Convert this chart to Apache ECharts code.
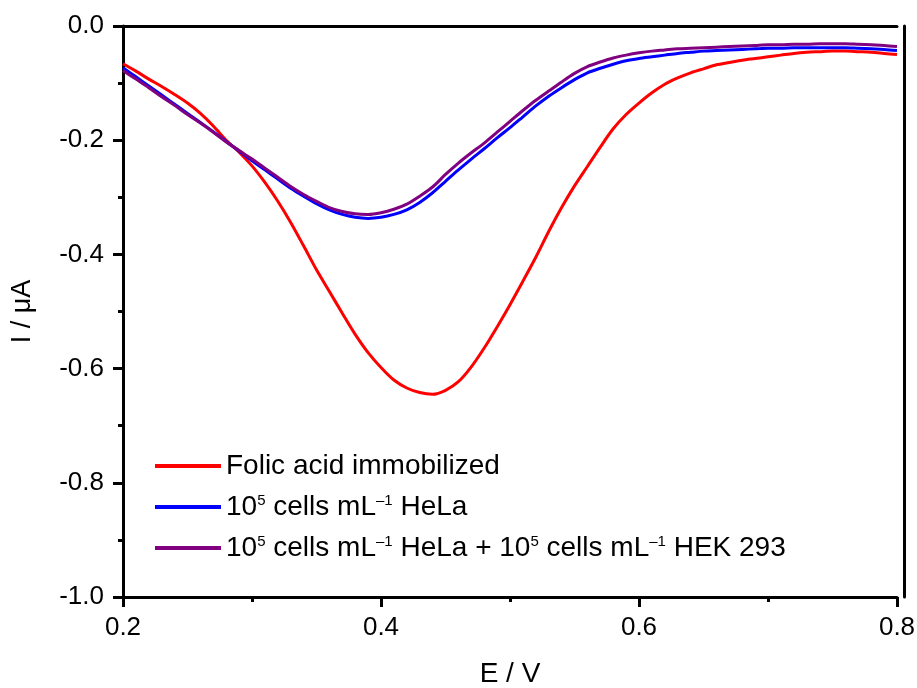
<!DOCTYPE html>
<html>
<head>
<meta charset="utf-8">
<script src="https://cdn.jsdelivr.net/npm/echarts@6/dist/echarts.min.js"></script>
<style>
  html, body { margin: 0; padding: 0; background: #fff; }
  #chart { width: 917px; height: 688px; }
</style>
</head>
<body>
<div id="chart"></div>
<script>
// potential (V)
const potential = [0.20, 0.21, 0.22, 0.23, 0.24, 0.25, 0.26, 0.27, 0.28, 0.29,
  0.30, 0.31, 0.32, 0.33, 0.34, 0.35, 0.36, 0.37, 0.38, 0.39,
  0.40, 0.41, 0.42, 0.43, 0.44, 0.45, 0.46, 0.47, 0.48, 0.49,
  0.50, 0.51, 0.52, 0.53, 0.54, 0.55, 0.56, 0.57, 0.58, 0.59,
  0.60, 0.61, 0.62, 0.63, 0.64, 0.65, 0.66, 0.67, 0.68, 0.69,
  0.70, 0.71, 0.72, 0.73, 0.74, 0.75, 0.76, 0.77, 0.78, 0.79, 0.80]

// current (uA)
const folicAcid = [-0.066, -0.079, -0.093, -0.106, -0.120, -0.135, -0.153, -0.175, -0.200, -0.221,
  -0.245, -0.274, -0.307, -0.344, -0.385, -0.427, -0.465, -0.503, -0.540, -0.572,
  -0.598, -0.620, -0.634, -0.642, -0.645, -0.638, -0.623, -0.597, -0.564, -0.527,
  -0.488, -0.447, -0.405, -0.360, -0.318, -0.280, -0.246, -0.212, -0.180, -0.155,
  -0.135, -0.117, -0.102, -0.091, -0.082, -0.075, -0.068, -0.064, -0.060, -0.057,
  -0.054, -0.051, -0.048, -0.046, -0.045, -0.044, -0.044, -0.045, -0.046, -0.048, -0.050]
const hela = [-0.073, -0.089, -0.105, -0.121, -0.137, -0.153, -0.169, -0.185, -0.202, -0.219,
  -0.236, -0.252, -0.268, -0.284, -0.298, -0.311, -0.322, -0.330, -0.335, -0.337,
  -0.335, -0.330, -0.322, -0.309, -0.292, -0.272, -0.252, -0.233, -0.215, -0.196,
  -0.178, -0.159, -0.140, -0.123, -0.108, -0.094, -0.082, -0.074, -0.067, -0.061,
  -0.057, -0.054, -0.051, -0.048, -0.046, -0.044, -0.043, -0.042, -0.041, -0.040,
  -0.039, -0.039, -0.038, -0.038, -0.038, -0.038, -0.038, -0.039, -0.040, -0.041, -0.043]
const helaHek = [-0.078, -0.093, -0.108, -0.124, -0.139, -0.155, -0.170, -0.186, -0.203, -0.218,
  -0.233, -0.249, -0.265, -0.281, -0.295, -0.307, -0.318, -0.325, -0.329, -0.330,
  -0.327, -0.321, -0.312, -0.298, -0.282, -0.260, -0.240, -0.222, -0.205, -0.186,
  -0.167, -0.148, -0.130, -0.114, -0.098, -0.083, -0.071, -0.063, -0.056, -0.051,
  -0.047, -0.044, -0.042, -0.040, -0.039, -0.038, -0.037, -0.036, -0.035, -0.034,
  -0.033, -0.033, -0.032, -0.032, -0.031, -0.031, -0.031, -0.032, -0.033, -0.034, -0.036]

const seriesNames = ['Folic acid immobilized', 'HeLa', 'HeLa + HEK 293']
const legendLabels = {
  'Folic acid immobilized': 'Folic acid immobilized',
  'HeLa': '10{sup|5} cells mL{sup|–1} HeLa',
  'HeLa + HEK 293': '10{sup|5} cells mL{sup|–1} HeLa + 10{sup|5} cells mL{sup|–1} HEK 293'
}

const pairs = (ys) => potential.map((x, i) => [x, ys[i]])

const font = 'Liberation Sans, Arial, sans-serif'
const axisLine = { onZero: false, lineStyle: { color: '#000', width: 3 } }
const tickStyle = { color: '#000', width: 3 }

const chart = echarts.init(document.getElementById('chart'))

const lineSeries = (name, ys, color) => ({
  name: name,
  type: 'line',
  data: pairs(ys),
  smooth: 0.3,
  showSymbol: false,
  color: color,
  lineStyle: { width: 3 }
})

chart.setOption({
  backgroundColor: '#fff',
  animation: false,
  grid: { left: 123, right: 20, top: 26, bottom: 91, outerBoundsMode: 'none' },
  legend: {
    orient: 'vertical',
    left: 155,
    top: 452,
    padding: 0,
    itemWidth: 66,
    itemHeight: 4,
    itemGap: 13,
    icon: 'rect',
    data: seriesNames,
    formatter: (name) => legendLabels[name],
    textStyle: {
      fontFamily: font,
      fontSize: 28,
      color: '#000',
      lineHeight: 28,
      rich: {
        sup: { fontFamily: font, fontSize: 15, verticalAlign: 'top', lineHeight: 15 }
      }
    }
  },
  xAxis: [{
    type: 'value',
    min: 0.2,
    max: 0.8,
    interval: 0.2,
    name: 'E / V',
    nameLocation: 'middle',
    nameGap: 63,
    nameTextStyle: { fontFamily: font, fontSize: 28, color: '#000' },
    axisLine: axisLine,
    axisTick: { length: 10, lineStyle: tickStyle },
    minorTick: { show: true, splitNumber: 2, length: 5, lineStyle: tickStyle },
    splitLine: { show: false },
    axisLabel: {
      margin: 18,
      fontFamily: font,
      fontSize: 26,
      color: '#000',
      formatter: (v) => v.toFixed(1)
    }
  }, {
    type: 'value',
    position: 'top',
    min: 0.2,
    max: 0.8,
    axisLine: axisLine,
    axisTick: { show: false },
    minorTick: { show: false },
    axisLabel: { show: false },
    splitLine: { show: false }
  }],
  yAxis: [{
    type: 'value',
    min: -1,
    max: 0,
    interval: 0.2,
    name: 'I / μA',
    nameLocation: 'middle',
    nameGap: 87,
    nameTextStyle: { fontFamily: font, fontSize: 27, color: '#000' },
    axisLine: axisLine,
    axisTick: { length: 10, lineStyle: tickStyle },
    minorTick: { show: true, splitNumber: 2, length: 5, lineStyle: tickStyle },
    splitLine: { show: false },
    axisLabel: {
      margin: 19,
      fontFamily: font,
      fontSize: 26,
      color: '#000',
      formatter: (v) => v.toFixed(1)
    }
  }, {
    type: 'value',
    position: 'right',
    offset: 7,
    min: -1,
    max: 0,
    axisLine: axisLine,
    axisTick: { show: false },
    minorTick: { show: false },
    axisLabel: { show: false },
    splitLine: { show: false }
  }],
  series: [
    lineSeries(seriesNames[0], folicAcid, '#ff0000'),
    lineSeries(seriesNames[1], hela, '#0000ff'),
    lineSeries(seriesNames[2], helaHek, '#800080')
  ]
})
</script>
</body>
</html>
